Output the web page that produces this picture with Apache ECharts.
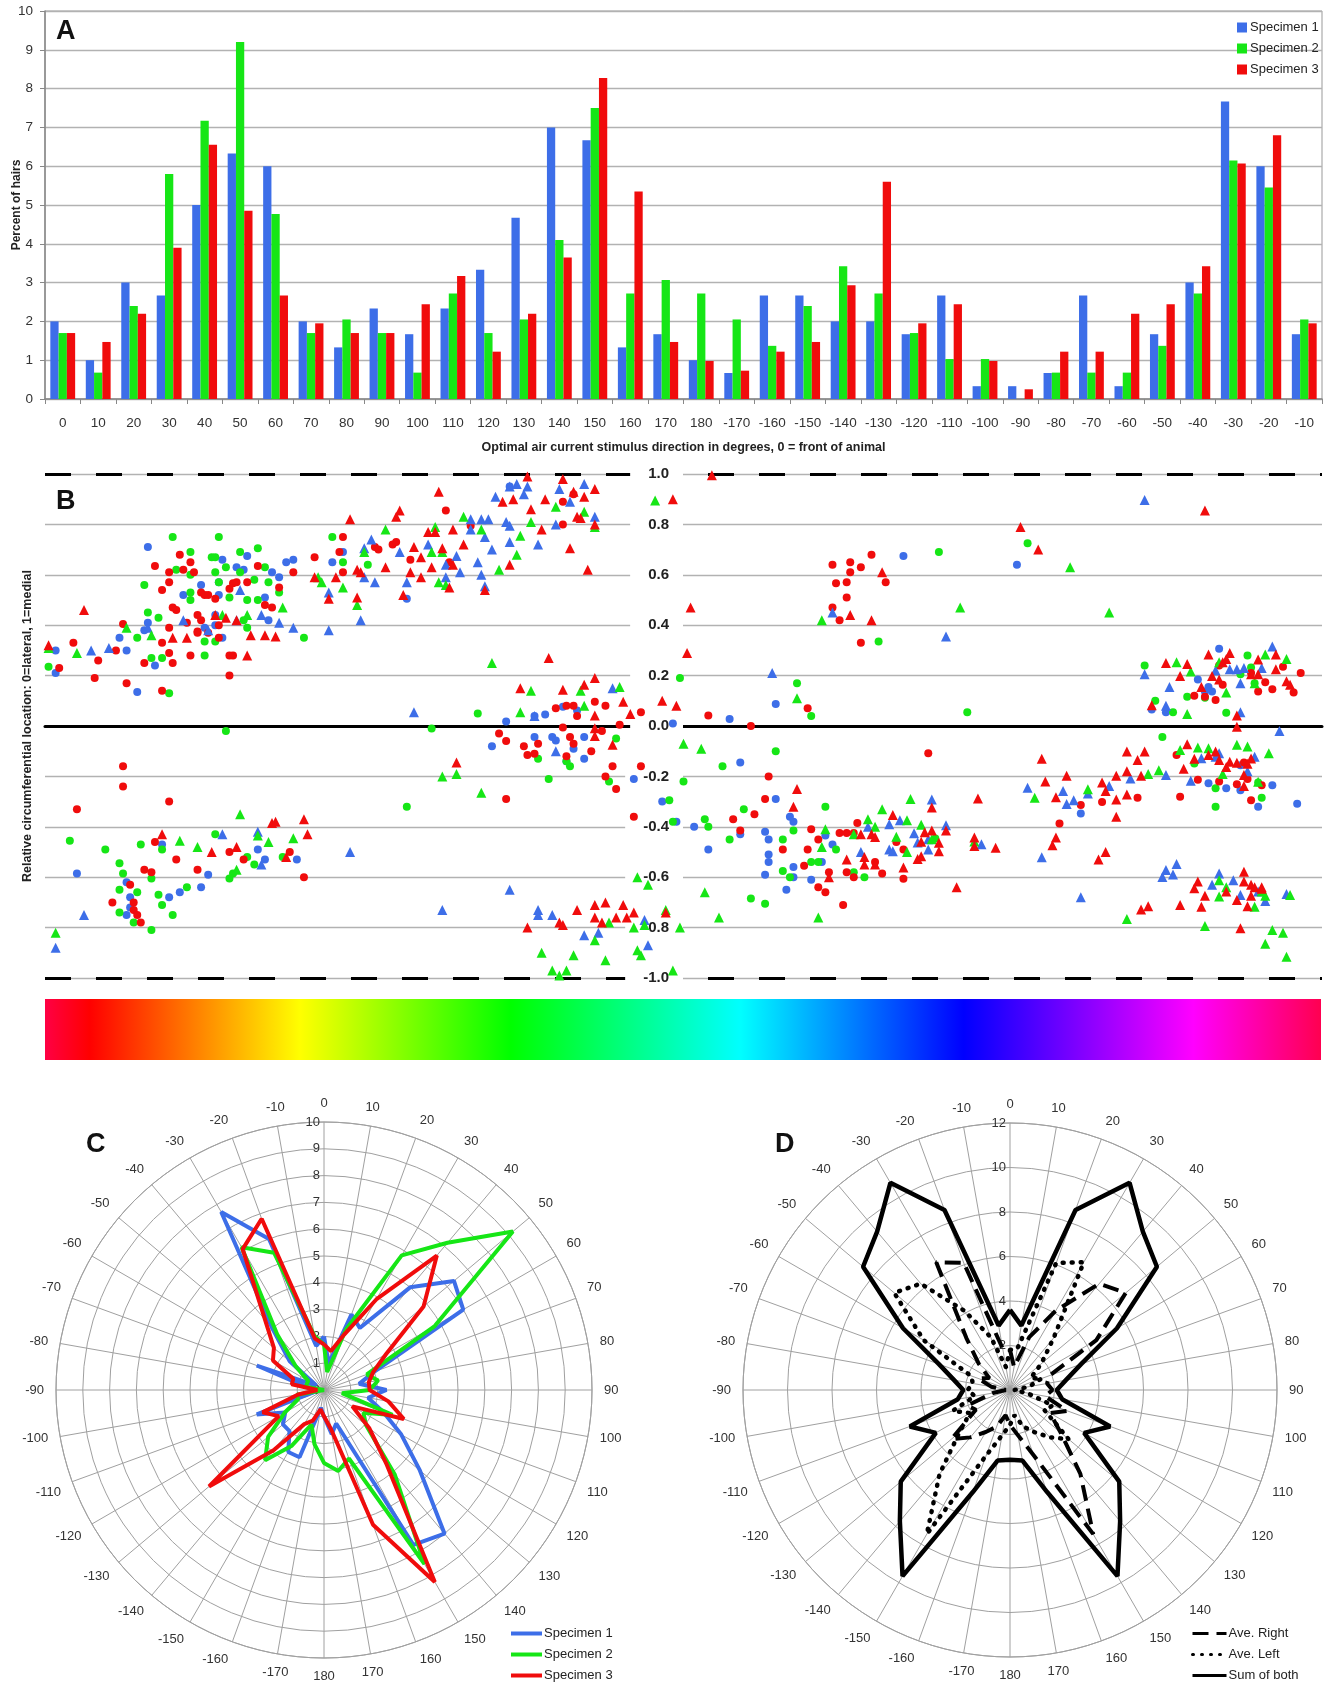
<!DOCTYPE html>
<html>
<head>
<meta charset="utf-8">
<script src="https://cdn.jsdelivr.net/npm/echarts/dist/echarts.min.js"></script>
<style>
  html, body { margin: 0; padding: 0; background: #fff; }
  #chart { width: 1327px; height: 1688px; }
</style>
</head>
<body>
<div id="chart"></div>
<script>
// directions (degrees), 0 = front of animal
const directions = [0, 10, 20, 30, 40, 50, 60, 70, 80, 90, 100, 110, 120, 130, 140, 150, 160, 170, 180,
  -170, -160, -150, -140, -130, -120, -110, -100, -90, -80, -70, -60, -50, -40, -30, -20, -10];

// percent of hairs per direction
const specimen1 = [2.0, 1.0, 3.0, 2.67, 5.0, 6.33, 6.0, 2.0, 1.33, 2.33, 1.67, 2.33, 3.33, 4.67, 7.0, 6.67, 1.33, 1.67, 1.0,
  0.67, 2.67, 2.67, 2.0, 2.0, 1.67, 2.67, 0.33, 0.33, 0.67, 2.67, 0.33, 1.67, 3.0, 7.67, 6.0, 1.67];
const specimen2 = [1.7, 0.68, 2.4, 5.8, 7.17, 9.2, 4.77, 1.7, 2.05, 1.7, 0.68, 2.72, 1.7, 2.05, 4.1, 7.5, 2.72, 3.07, 2.72,
  2.05, 1.37, 2.4, 3.42, 2.72, 1.7, 1.03, 1.03, 0, 0.68, 0.68, 0.68, 1.37, 2.72, 6.15, 5.45, 2.05];
const specimen3 = [1.7, 1.47, 2.2, 3.9, 6.55, 4.85, 2.67, 1.95, 1.7, 1.7, 2.44, 3.17, 1.22, 2.2, 3.65, 8.27, 5.35, 1.47, 0.98,
  0.73, 1.22, 1.47, 2.93, 5.6, 1.95, 2.44, 0.98, 0.25, 1.22, 1.22, 2.2, 2.44, 3.42, 6.07, 6.8, 1.95];

// panel D
const aveRight = [1.80, 1.05, 2.53, 4.12, 6.24, 6.79, 4.48, 1.88, 1.69, 1.91, 1.60, 2.74, 2.08, 2.97, 4.92, 7.48, 3.13, 2.07, 1.57,
  1.15, 1.75, 2.18, 2.78, 3.44, 1.77, 2.05, 0.78, 0.19, 0.86, 1.52, 1.07, 1.83, 3.05, 6.63, 6.08, 1.89];
const aveLeft = [1.80, 1.89, 6.08, 6.63, 3.05, 1.83, 1.07, 1.52, 0.86, 0.19, 0.78, 2.05, 1.77, 3.44, 2.78, 2.18, 1.75, 1.15, 1.57,
  2.07, 3.13, 7.48, 4.92, 2.97, 2.08, 2.74, 1.60, 1.91, 1.69, 1.88, 4.48, 6.79, 6.24, 4.12, 2.53, 1.05];
const sumOfBoth = [3.60, 2.94, 8.61, 10.75, 9.29, 8.62, 5.55, 3.40, 2.55, 2.10, 2.38, 4.79, 3.85, 6.41, 7.70, 9.66, 4.88, 3.22, 3.14,
  3.22, 4.88, 9.66, 7.70, 6.41, 3.85, 4.79, 2.38, 2.10, 2.55, 3.40, 5.55, 8.62, 9.29, 10.75, 8.61, 2.94];

// panel B: [position along cercus (0-360), relative circumferential location]
const blueCircles = [[3,0.30],[3,0.21],[21,0.35],[23,0.30],[26,0.135],[28,0.38],[29,0.41],[31,0.24],[29,0.71],[39,0.52],[44,0.56],[49,0.57],[50,0.66],[54,0.63],[56,0.62],[57,0.675],[49,0.52],[48,0.40],[50,0.35],[62,0.51],[63,0.42],[64,0.61],[66,0.59],[68,0.65],[70,0.66],[81,0.65],[84,0.69],[102,0.505],[48,0.44],[45,0.39],
  [9,-0.585],[23,-0.62],[24,-0.68],[24,-0.72],[23,-0.75],[35,-0.68],[38,-0.66],[44,-0.64],[46,-0.59],[60,-0.49],[62,-0.53],[71,-0.53],[33,-0.47],
  [131,0.95],[126,-0.08],[130,0.018],[138,-0.044],[141,0.046],[143,-0.044],[146,0.076],[144,-0.058],[149,-0.09],[152,-0.044],[152,-0.13],[147,-0.14],[177,0.01],[166,-0.21],[174,-0.30],[178,-0.38],[183,-0.40],[187,-0.49],[193,0.028],[196,-0.145],[206,0.087],[206,-0.29],[196,-0.43],[203,-0.42],[204,-0.45],[204,-0.51],[204,-0.54],[203,-0.59],[210,-0.36],[211,-0.38],[211,-0.56],[211,-0.60],[216,-0.61],[219,-0.54],[220,-0.435],[222,-0.47],[209,-0.65],[138,0.04],[150,0.062],
  [242,0.675],[274,0.64],[312,0.065],[316,0.055],[325,0.185],[328,0.155],[327,0.137],[331,0.307],[329,0.137],[292,-0.347],[328,-0.227],[333,-0.247],[337,-0.255],[337,-0.156],[342,-0.32],[346,-0.235],[353,-0.309]];
const blueTriangles = [[13,0.30],[18,0.31],[29,0.39],[39,0.42],[46,0.38],[55,0.54],[61,0.44],[66,0.41],[70,0.39],[80,0.38],[80,0.53],[89,0.42],[90,0.59],[93,0.57],[92,0.74],[90,0.705],[100,0.69],[102,0.57],[108,0.72],[113,0.64],[113,0.59],[104,0.055],[54,0.42],
  [11,-0.75],[3,-0.88],[50,-0.43],[60,-0.42],[61,-0.55],[86,-0.50],[112,-0.73],
  [116,0.675],[120,0.78],[120,0.82],[123,0.82],[125,0.82],[124,0.75],[122,0.65],[126,0.70],[123,0.60],[124,0.555],[127,0.91],[131,0.95],[133,0.96],[136,0.95],[135,0.92],[130,0.81],[131,0.795],[131,0.73],[139,0.72],[145,0.94],[148,0.89],[152,0.96],[155,0.83],[144,0.80],[222,0.45],[117,0.61],
  [138,0.04],[144,-0.10],[232,-0.40],[160,0.15],[205,0.21],[131,-0.65],[238,-0.39],[238,-0.49],[230,-0.50],
  [139,-0.73],[139,-0.75],[143,-0.75],[152,-0.83],[156,-0.82],[169,-0.77],[170,-0.87],
  [254,0.355],[310,0.897],[310,0.205],[317,0.155],[316,0.08],[330,0.22],[334,0.225],[336,0.225],[338,0.23],[337,0.17],[343,0.23],[346,0.315],[337,0.055],[348,-0.02],
  [277,-0.245],[287,-0.258],[288,-0.31],[290,-0.295],[294,-0.268],[306,-0.208],[316,-0.194],[323,-0.217],[326,-0.128],[330,-0.122],[331,-0.108],[341,-0.122],[339,-0.18],[300,-0.238],[281,-0.521],[292,-0.68],
  [241,-0.374],[239,-0.497],[245,-0.426],[246,-0.462],[249,-0.49],[250,-0.292],[254,-0.394],[264,-0.469],[249,-0.449],
  [315,-0.599],[316,-0.571],[319,-0.548],[318,-0.589],[329,-0.63],[331,-0.585],[335,-0.612],[337,-0.671],[342,-0.657],[344,-0.694],[350,-0.667]];
const greenCircles = [[1,0.235],[28,0.56],[29,0.45],[26,0.35],[30,0.27],[33,0.27],[32,0.43],[36,0.75],[37,0.62],[41,0.69],[41,0.60],[41,0.53],[45,0.28],[45,0.335],[48,0.335],[49,0.75],[47,0.67],[48,0.67],[48,0.61],[49,0.57],[51,0.63],[55,0.69],[55,0.61],[60,0.705],[62,0.63],[59,0.58],[57,0.50],[60,0.50],[56,0.42],[57,0.39],[66,0.53],[63,0.57],[73,0.35],[81,0.75],[84,0.65],[91,0.64],[109,-0.01],[51,-0.02],[35,0.13],[41,0.50],[52,0.51],
  [7,-0.455],[17,-0.49],[21,-0.545],[22,-0.585],[21,-0.65],[26,-0.66],[21,-0.74],[25,-0.78],[30,-0.81],[36,-0.75],[33,-0.71],[32,-0.67],[27,-0.47],[33,-0.49],[30,-0.605],[40,-0.64],[48,-0.43],[52,-0.605],[53,-0.585],[57,-0.52],[59,-0.55],[67,-0.52],[102,-0.32],
  [235,0.335],[122,0.05],[139,-0.13],[142,-0.21],[148,-0.16],[147,-0.14],[161,-0.05],[159,-0.22],[179,0.19],[180,-0.22],[176,-0.295],[177,-0.38],[191,-0.16],[186,-0.37],[187,-0.40],[193,-0.45],[197,-0.33],[212,0.17],[216,0.04],[206,-0.10],[208,-0.45],[211,-0.415],[220,-0.32],[208,-0.575],[210,-0.60],[199,-0.685],[203,-0.705],[216,-0.54],[218,-0.54],[223,-0.49],[231,-0.60],[228,-0.58],
  [252,0.69],[277,0.725],[260,0.055],[310,0.24],[313,0.10],[318,0.055],[322,0.116],[327,0.112],[333,0.053],[339,0.28],[340,0.232],[337,0.205],[341,0.17],[315,-0.044],[330,-0.247],[330,-0.32],[343,-0.285],[342,-0.224],[324,-0.149],[251,-0.446]];
const greenTriangles = [[1,0.31],[9,0.29],[23,0.39],[30,0.36],[50,0.44],[57,0.44],[67,0.47],[77,0.59],[78,0.57],[84,0.55],[88,0.48],[90,0.69],[96,0.78],[110,0.79],[111,0.57],[113,0.56],[109,0.69],[112,0.69],
  [3,-0.82],[38,-0.455],[43,-0.48],[55,-0.35],[60,-0.435],[63,-0.46],[70,-0.445],[54,-0.57],[112,-0.20],
  [118,0.83],[123,0.78],[128,0.62],[133,0.68],[134,0.755],[137,0.81],[144,0.87],[152,0.85],[155,0.79],[172,0.895],[219,0.42],
  [126,0.25],[134,0.055],[137,0.14],[151,0.14],[162,0.155],[152,0.08],[180,-0.07],[185,-0.09],[123,-0.265],[116,-0.19],[212,0.11],
  [219,-0.48],[220,-0.41],[232,-0.37],[234,-0.40],[236,-0.33],[228,-0.43],[186,-0.66],[190,-0.76],[218,-0.76],
  [140,-0.90],[143,-0.97],[147,-0.97],[145,-0.99],[149,-0.91],[155,-0.85],[158,-0.93],[159,-0.78],[166,-0.80],[167,-0.89],[168,-0.91],[169,-0.79],[167,-0.60],[170,-0.63],[175,-0.73],[177,-0.97],[179,-0.80],
  [258,0.47],[289,0.63],[300,0.45],[319,0.253],[322,0.048],[323,0.216],[331,0.253],[333,0.133],[344,0.284],[350,0.266],[341,0.17],
  [279,-0.285],[294,-0.251],[311,-0.19],[314,-0.176],[320,-0.095],[325,-0.085],[328,-0.088],[336,-0.074],[339,-0.081],[345,-0.108],[332,-0.19],[342,-0.221],
  [243,-0.374],[244,-0.29],[247,-0.392],[240,-0.439],[243,-0.50],[262,-0.458],[250,-0.449],
  [305,-0.766],[327,-0.794],[331,-0.677],[331,-0.612],[333,-0.64],[341,-0.717],[343,-0.657],[344,-0.674],[344,-0.864],[346,-0.81],[349,-0.82],[350,-0.916],[351,-0.671]];
const redCircles = [[8,0.33],[4,0.23],[15,0.26],[14,0.19],[22,0.405],[23,0.17],[20,0.30],[28,0.25],[31,0.635],[33,0.54],[35,0.61],[35,0.57],[33,0.33],[35,0.39],[36,0.25],[35,0.29],[38,0.68],[41,0.65],[42,0.61],[39,0.62],[41,0.28],[43,0.375],[44,0.53],[45,0.52],[46,0.52],[43,0.44],[44,0.42],[46,0.37],[43,0.37],[48,0.505],[49,0.35],[52,0.545],[53,0.566],[54,0.57],[57,0.57],[52,0.28],[53,0.28],[52,0.20],[60,0.635],[62,0.48],[64,0.47],[66,0.55],[70,0.61],[76,0.67],[84,0.75],[83,0.69],[84,0.61],[93,0.71],[94,0.70],[98,0.72],[99,0.73],[103,0.66],[113,0.855],[114,0.65],[37,0.46],[36,0.47],[40,0.41],[49,0.40],[33,0.14],
  [22,-0.16],[22,-0.24],[9,-0.33],[35,-0.30],[31,-0.46],[37,-0.53],[28,-0.57],[30,-0.58],[43,-0.57],[52,-0.50],[56,-0.53],[69,-0.50],[73,-0.60],[24,-0.63],[19,-0.70],[25,-0.70],[25,-0.73],[26,-0.75],[27,-0.78],
  [120,0.795],[146,0.89],[146,0.80],[149,0.92],[222,0.64],[227,0.65],[233,0.68],[230,0.63],[223,0.566],[226,0.57],[226,0.51],[222,0.47],[224,0.42],[230,0.33],[227,0.61],[237,0.57],
  [128,-0.03],[130,-0.06],[135,-0.08],[136,-0.115],[138,-0.11],[139,-0.07],[144,0.07],[147,0.08],[149,0.08],[150,0.04],[155,0.096],[158,0.08],[146,-0.006],[148,-0.044],[149,-0.07],[147,-0.12],[154,-0.10],[157,-0.02],[162,0.005],[168,0.055],[160,-0.16],[168,-0.16],[158,-0.20],[161,-0.25],[130,-0.29],[187,0.042],[199,0.0],[215,0.07],[204,-0.20],[203,-0.29],[166,-0.36],[200,-0.35],[196,-0.415],[194,-0.37],[216,-0.41],[218,-0.45],[215,-0.49],[208,-0.49],[224,-0.425],[226,-0.425],[228,-0.425],[229,-0.385],[214,-0.555],[221,-0.58],[226,-0.58],[228,-0.60],[218,-0.64],[220,-0.66],[225,-0.71],[236,-0.585],[234,-0.54],
  [324,0.12],[327,0.116],[330,0.103],[332,0.164],[340,0.21],[342,0.137],[344,0.174],[346,0.146],[349,0.235],[352,0.133],[354,0.21],[331,0.24],
  [249,-0.108],[286,-0.387],[292,-0.313],[298,-0.302],[308,-0.285],[319,-0.115],[320,-0.281],[325,-0.213],[331,-0.22],[336,-0.231],[340,-0.295],[339,-0.21],[343,-0.235],[338,-0.145],
  [242,-0.606],[242,-0.49],[240,-0.46]];
const redTriangles = [[1,0.32],[11,0.46],[36,0.35],[40,0.35],[48,0.44],[51,0.43],[54,0.42],[58,0.36],[62,0.36],[65,0.355],[57,0.28],[86,0.82],[99,0.83],[100,0.855],[111,0.93],[96,0.63],[104,0.71],[106,0.67],[109,0.63],[112,0.705],[88,0.62],[88,0.51],[89,0.61],[80,0.505],[82,0.59],[76,0.59],[101,0.52],[108,0.77],[110,0.77],[106,0.59],[103,0.61],
  [33,-0.43],[47,-0.50],[54,-0.48],[64,-0.385],[65,-0.38],[73,-0.37],[74,-0.43],[68,-0.52],
  [115,0.78],[118,0.72],[115,0.64],[114,0.55],[124,0.54],[129,0.89],[131,0.64],[132,0.90],[136,0.99],[137,0.86],[140,0.78],[141,0.90],[146,0.98],[148,0.705],[149,0.93],[150,0.83],[151,0.825],[152,0.91],[155,0.80],[155,0.94],[153,0.62],[177,0.90],[182,0.47],[181,0.29],[188,0.995],[227,0.44],[233,0.42],[236,0.61],
  [142,0.27],[134,0.15],[146,0.144],[152,0.164],[155,0.19],[163,0.096],[165,0.048],[160,-0.074],[155,0.042],[155,-0.009],[155,-0.04],[174,0.10],[178,0.08],[116,-0.145],[212,-0.25],[211,-0.32],
  [226,-0.53],[230,-0.43],[231,-0.52],[233,-0.43],[234,-0.44],[221,-0.60],[231,-0.55],[234,-0.55],
  [136,-0.80],[145,-0.78],[146,-0.79],[150,-0.73],[155,-0.71],[158,-0.70],[163,-0.71],[155,-0.76],[157,-0.78],[161,-0.76],[164,-0.76],[166,-0.74],[175,-0.74],
  [275,0.79],[280,0.70],[327,0.855],
  [316,0.25],[322,0.246],[320,0.198],[326,0.155],[328,0.284],[329,0.198],[331,0.185],[332,0.253],[334,0.29],[333,0.266],[342,0.264],[347,0.284],[347,0.225],[350,0.178],[351,0.164],[336,0.042],[336,-0.003],[312,0.082],[340,0.205],[342,0.205],
  [281,-0.13],[282,-0.22],[288,-0.197],[285,-0.283],[298,-0.224],[299,-0.258],[302,-0.292],[302,-0.197],[305,-0.18],[305,-0.272],[305,-0.101],[308,-0.135],[310,-0.101],[309,-0.197],[302,-0.36],[321,-0.17],[322,-0.072],[324,-0.13],[328,-0.115],[330,-0.101],[331,-0.135],[333,-0.163],[334,-0.142],[336,-0.146],[338,-0.194],[339,-0.15],[338,-0.238],[340,-0.129],[285,-0.442],[284,-0.473],[299,-0.50],[297,-0.53],[268,-0.483],[263,-0.288],
  [239,-0.353],[242,-0.562],[246,-0.528],[247,-0.517],[248,-0.422],[250,-0.415],[250,-0.323],[252,-0.463],[252,-0.497],[254,-0.415],[262,-0.442],[262,-0.476],[257,-0.64],[247,-0.459],
  [309,-0.728],[311,-0.715],[320,-0.71],[324,-0.644],[325,-0.617],[327,-0.674],[326,-0.717],[333,-0.657],[338,-0.578],[338,-0.617],[336,-0.69],[339,-0.715],[340,-0.63],[341,-0.64],[343,-0.64],[343,-0.646],[340,-0.674],[337,-0.803]];

const BLUE = '#3d6ee8';
const GREEN = '#16e616';
const RED = '#f00c0c';
const FONT = '"Liberation Sans", Arial, sans-serif';

// polar line through every direction, closed back to 0
function polarLoop(values) {
  const pts = values.map((v, i) => [v, (directions[i] + 360) % 360]);
  pts.push([values[0], 360]);
  return pts;
}

function angleLabel(v) {
  if (v === 360) return '';
  return String(v > 180 ? v - 360 : v);
}

function scatterSeries(data, color, symbol, size) {
  return {
    type: 'scatter', xAxisIndex: 1, yAxisIndex: 1, data: data,
    symbol: symbol, symbolSize: size, silent: true, z: 5,
    itemStyle: { color: color, opacity: 1 }
  };
}

function polarLine(name, values, polarIndex, color, width, type) {
  return {
    name: name, type: 'line', coordinateSystem: 'polar', polarIndex: polarIndex,
    data: polarLoop(values), symbol: 'none', smooth: false, silent: true,
    lineStyle: { color: color, width: width, type: type || 'solid', cap: type && type[0] < 3 ? 'round' : 'butt' },
    itemStyle: { color: color }
  };
}

const chart = echarts.init(document.getElementById('chart'));

const gridLine = { lineStyle: { color: '#b2b2b2', width: 1.3 } };
const polarGrey = { color: '#a0a0a0', width: 1 };

const option = {
  animation: false,
  backgroundColor: '#fff',
  textStyle: { fontFamily: FONT },
  grid: [
    { left: 45, top: 11, width: 1277, height: 388, show: true, borderColor: '#999', borderWidth: 1, outerBoundsMode: 'none' },
    { left: 45, top: 474, width: 1277, height: 504, outerBoundsMode: 'none' }
  ],
  xAxis: [
    {
      gridIndex: 0, type: 'category', data: directions.map(String),
      axisLine: { lineStyle: { color: '#888', width: 1.5 } },
      axisTick: { show: true, length: 5, lineStyle: { color: '#888' } },
      axisLabel: { interval: 0, fontSize: 13.5, color: '#333', margin: 17 },
      splitLine: { show: false },
      name: 'Optimal air current stimulus direction in degrees, 0 = front of animal',
      nameLocation: 'middle', nameGap: 42, nameMoveOverlap: false,
      nameTextStyle: { fontSize: 12.5, fontWeight: 'bold', color: '#222' }
    },
    {
      gridIndex: 1, type: 'value', min: 0, max: 360, z: 2,
      axisLine: { show: true, onZero: true, onZeroAxisIndex: 1, lineStyle: { color: '#000', width: 3 } },
      axisTick: { show: false }, axisLabel: { show: false }, splitLine: { show: false }
    }
  ],
  yAxis: [
    {
      gridIndex: 0, type: 'value', min: 0, max: 10, interval: 1,
      axisLine: { show: true, lineStyle: { color: '#888', width: 1.5 } },
      axisTick: { show: true, length: 5, lineStyle: { color: '#888' } },
      axisLabel: { fontSize: 13.5, color: '#333', margin: 12 },
      splitLine: gridLine,
      name: 'Percent of hairs', nameLocation: 'middle', nameGap: 22, nameMoveOverlap: false,
      nameTextStyle: { fontSize: 12, fontWeight: 'bold', color: '#222' }
    },
    {
      gridIndex: 1, type: 'value', min: -1, max: 1, interval: 0.2,
      axisLine: { show: false, onZero: false }, axisTick: { show: false }, axisLabel: { show: false },
      splitLine: gridLine,
      name: 'Relative circumferential location: 0=lateral, 1=medial', nameLocation: 'middle', nameGap: 11,
      nameMoveOverlap: false,
      nameTextStyle: { fontSize: 12.5, fontWeight: 'bold', color: '#222' }
    },
    {
      gridIndex: 1, type: 'value', min: -1, max: 1, interval: 0.2, position: 'left', offset: -640, z: 3,
      axisLine: { show: false, onZero: false }, axisTick: { show: false }, splitLine: { show: false },
      axisLabel: {
        margin: 2, fontSize: 15, fontWeight: 'bold', color: '#222',
        backgroundColor: '#fff', padding: [1, 14, 1, 18],
        formatter: v => (Math.abs(v) < 1e-9 ? 0 : v).toFixed(1)
      }
    }
  ],
  polar: [
    { center: [324, 1390], radius: 268 },
    { center: [1010, 1390], radius: 267 }
  ],
  angleAxis: [
    {
      polarIndex: 0, type: 'value', min: 0, max: 360, interval: 10, startAngle: 90, clockwise: true,
      axisLine: { lineStyle: polarGrey }, axisTick: { show: false },
      axisLabel: { formatter: angleLabel, fontSize: 13, color: '#333', margin: 12 },
      splitLine: { lineStyle: polarGrey }
    },
    {
      polarIndex: 1, type: 'value', min: 0, max: 360, interval: 10, startAngle: 90, clockwise: true,
      axisLine: { lineStyle: polarGrey }, axisTick: { show: false },
      axisLabel: { formatter: angleLabel, fontSize: 13, color: '#333', margin: 12 },
      splitLine: { lineStyle: polarGrey }
    }
  ],
  radiusAxis: [
    {
      polarIndex: 0, type: 'value', min: 0, max: 10, interval: 1,
      axisLine: { show: false }, axisTick: { show: false },
      axisLabel: { fontSize: 13, color: '#333', margin: 4, showMinLabel: true },
      splitLine: { show: true, lineStyle: polarGrey }
    },
    {
      polarIndex: 1, type: 'value', min: 0, max: 12, interval: 2,
      axisLine: { show: false }, axisTick: { show: false },
      axisLabel: { fontSize: 13, color: '#333', margin: 4, formatter: v => (v === 0 ? '' : String(v)) },
      splitLine: { show: true, lineStyle: polarGrey }
    }
  ],
  legend: [
    {
      left: 1232, top: 16, orient: 'vertical', itemWidth: 10, itemHeight: 10, itemGap: 8,
      selectedMode: false, textStyle: { fontSize: 13, color: '#222', padding: [0, 0, 0, -2] },
      data: [{ name: 'Specimen 1', icon: 'rect' }, { name: 'Specimen 2', icon: 'rect' }, { name: 'Specimen 3', icon: 'rect' }]
    },
    {
      left: 506, top: 1622, orient: 'vertical', itemWidth: 31, itemHeight: 4, itemGap: 8,
      selectedMode: false, textStyle: { fontSize: 13, color: '#222', padding: [0, 0, 0, -3] },
      data: [{ name: 'Specimen 1', icon: 'rect' }, { name: 'Specimen 2', icon: 'rect' }, { name: 'Specimen 3', icon: 'rect' }]
    },
    {
      left: 1186, top: 1622, orient: 'vertical', itemWidth: 34, itemHeight: 12, itemGap: 8,
      selectedMode: false, textStyle: { fontSize: 13, color: '#222', padding: [0, 0, 0, -3] },
      itemStyle: { color: 'rgba(0,0,0,0)', borderWidth: 0, opacity: 0 },
      lineStyle: { width: 3 },
      data: ['Ave. Right', 'Ave. Left', 'Sum of both']
    }
  ],
  graphic: [
    { type: 'text', left: 56, top: 18, silent: true, style: { text: 'A', font: 'bold 27px ' + FONT, fill: '#111' } },
    { type: 'text', left: 56, top: 488, silent: true, style: { text: 'B', font: 'bold 27px ' + FONT, fill: '#111' } },
    { type: 'text', left: 86, top: 1131, silent: true, style: { text: 'C', font: 'bold 27px ' + FONT, fill: '#111' } },
    { type: 'text', left: 775, top: 1131, silent: true, style: { text: 'D', font: 'bold 27px ' + FONT, fill: '#111' } },
    {
      type: 'rect', silent: true, shape: { x: 45, y: 999, width: 1276, height: 61 },
      style: {
        fill: {
          type: 'linear', x: 0, y: 0, x2: 1, y2: 0,
          colorStops: [
            { offset: 0, color: '#ff0044' }, { offset: 0.035, color: '#ff0000' },
            { offset: 0.2, color: '#ffff00' }, { offset: 0.365, color: '#00ff00' },
            { offset: 0.545, color: '#00ffff' }, { offset: 0.72, color: '#0000ff' },
            { offset: 0.9, color: '#ff00ff' }, { offset: 1, color: '#ff0050' }
          ]
        }
      }
    }
  ],
  series: [
    { name: 'Specimen 1', type: 'bar', xAxisIndex: 0, yAxisIndex: 0, data: specimen1, barGap: '0%', barCategoryGap: '30%', itemStyle: { color: BLUE }, silent: true },
    { name: 'Specimen 2', type: 'bar', xAxisIndex: 0, yAxisIndex: 0, data: specimen2, barGap: '0%', barCategoryGap: '30%', itemStyle: { color: GREEN }, silent: true },
    { name: 'Specimen 3', type: 'bar', xAxisIndex: 0, yAxisIndex: 0, data: specimen3, barGap: '0%', barCategoryGap: '30%', itemStyle: { color: RED }, silent: true },
    {
      type: 'scatter', xAxisIndex: 1, yAxisIndex: 1, data: [], silent: true, z: 1,
      markLine: {
        silent: true, z: 1, symbol: ['none', 'none'], label: { show: false },
        lineStyle: { color: '#000', width: 3, type: [26, 25] },
        data: [{ yAxis: 1 }, { yAxis: -1 }]
      }
    },
    scatterSeries(blueCircles, BLUE, 'circle', 8),
    scatterSeries(greenCircles, GREEN, 'circle', 8),
    scatterSeries(redCircles, RED, 'circle', 8),
    scatterSeries(blueTriangles, BLUE, 'triangle', 10),
    scatterSeries(greenTriangles, GREEN, 'triangle', 10),
    scatterSeries(redTriangles, RED, 'triangle', 10),
    polarLine('Specimen 1', specimen1, 0, BLUE, 4),
    polarLine('Specimen 2', specimen2, 0, GREEN, 4),
    polarLine('Specimen 3', specimen3, 0, RED, 4),
    polarLine('Ave. Right', aveRight, 1, '#000', 4, [16, 8]),
    polarLine('Ave. Left', aveLeft, 1, '#000', 4.5, [1, 8]),
    polarLine('Sum of both', sumOfBoth, 1, '#000', 4.5)
  ]
};

chart.setOption(option);
</script>
</body>
</html>
